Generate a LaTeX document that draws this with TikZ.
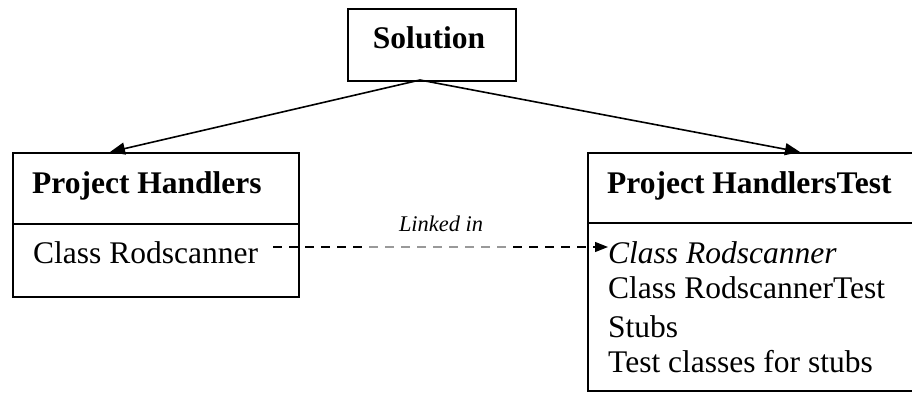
\documentclass[tikz,border=0pt]{standalone}
\usepackage{fontspec}
\setmainfont{Liberation Serif}
\usetikzlibrary{arrows.meta}
\begin{document}
\begin{tikzpicture}[x=1pt,y=-1pt,
  box/.style={draw, line width=1.6pt, inner sep=0pt, anchor=north west},
  rule/.style={line width=1.6pt},
  txt/.style={inner sep=0pt, anchor=base west, font=\fontsize{31.5}{36}\selectfont},
  head/.style={txt, font=\fontsize{31.5}{36}\selectfont\bfseries},
  arr/.style={line width=1.6pt, -{Triangle[length=15pt,width=12pt]}},
  link/.style={line width=1.3pt, dash pattern=on 9pt off 7pt, -{Triangle[length=13pt,width=10pt]}},
  note/.style={inner xsep=30pt, inner ysep=19pt, anchor=base, fill=white, fill opacity=0.6, text opacity=1,
    font=\fontsize{22.4}{26}\selectfont\itshape}]
\useasboundingbox (0,0) rectangle (912,392);
\clip (0,0) rectangle (912,392);

% solution node
\node[box, minimum width=168pt, minimum height=72pt] (sol) at (347,8) {};
\node[head, anchor=base] (soltxt) at (429,48) {Solution};

% left project
\node[box, minimum width=286pt, minimum height=144pt] (ph) at (12,152) {};
\draw[rule] (12,224) -- (298,224);
\node[head] (phtxt) at (32,193) {Project Handlers};
\node[txt] (phcls) at (33,263) {Class Rodscanner};

% right project
\node[box, minimum width=340pt, minimum height=238pt] (pt) at (587,152) {};
\draw[rule] (587,223) -- (927,223);
\node[head] (pttxt) at (607,193) {Project HandlersTest};
\node[txt, font=\fontsize{31.5}{36}\selectfont\itshape] (ptcls) at (608,263) {Class Rodscanner};
\node[txt] (pttest) at (608,298) {Class RodscannerTest};
\node[txt] (ptstubs) at (608,337) {Stubs};
\node[txt] (ptstubtests) at (608,372) {Test classes for stubs};

% solution contains both projects
\coordinate (apex) at (420,80);
\coordinate (phin) at (110,152);
\coordinate (ptin) at (800,152);
\draw[arr] (apex) -- (phin);
\draw[arr] (apex) -- (ptin);

% class linked into the test project
\coordinate (linkfrom) at (273,247);
\coordinate (linkto) at (608,247);
\draw[link] (linkfrom) -- (linkto);
\node[note] (linklbl) at (441,231) {Linked in};
\end{tikzpicture}
\end{document}
